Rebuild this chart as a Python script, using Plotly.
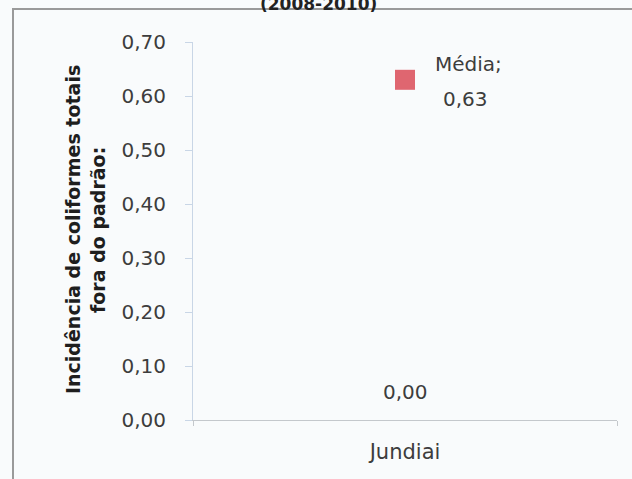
import plotly.graph_objects as go

# Data
categories = ["Jundiai"]
media_values = [0.63]
baseline_values = [0.00]
y_ticks = [0.0, 0.1, 0.2, 0.3, 0.4, 0.5, 0.6, 0.7]
y_title_lines = ["Incidência de coliformes totais", "fora do padrão:"]
chart_title = "(2008-2010)"

W, H = 632, 479
L, R, T, B = 193, 15, 42, 59
pw, ph = W - L - R, H - T - B


def px_x(p):
    return (p - L) / pw


def px_y(p):
    return (H - B - p) / ph


def fmt(v):
    return f"{v:.2f}".replace(".", ",")


FONT = "'DejaVu Sans', sans-serif"
TXT = "#3d3d3d"

fig = go.Figure()

fig.add_trace(go.Scatter(
    x=categories, y=media_values, mode="markers", name="Média",
    marker=dict(symbol="square", size=20, color="#df6670",
                line=dict(width=0)),
    cliponaxis=False, showlegend=False,
))
fig.add_trace(go.Scatter(
    x=categories, y=baseline_values, mode="markers", name="Base",
    marker=dict(size=1, color="rgba(0,0,0,0)"),
    cliponaxis=False, showlegend=False,
))

annotations = []
for c, v in zip(categories, media_values):
    annotations.append(dict(x=c, y=v, text="Média;", showarrow=False,
                            xshift=63, yshift=16,
                            font=dict(family=FONT, size=20, color=TXT)))
    annotations.append(dict(x=c, y=v, text=fmt(v), showarrow=False,
                            xshift=60, yshift=-19,
                            font=dict(family=FONT, size=20, color=TXT)))
for c, v in zip(categories, baseline_values):
    annotations.append(dict(x=c, y=v, text=fmt(v), showarrow=False,
                            yshift=28,
                            font=dict(family=FONT, size=20, color=TXT)))

# y-axis title, two bold rotated lines
for i, line in enumerate(y_title_lines):
    annotations.append(dict(
        xref="paper", yref="paper", x=px_x(60 + 25 * i), y=px_y(230),
        text=f"<b>{line}</b>", textangle=-90, showarrow=False,
        font=dict(family=FONT, size=19, color="#1e1e1e"),
    ))

# title (upper part above the frame)
annotations.append(dict(
    xref="paper", yref="paper", x=px_x(258), y=px_y(-8),
    text=f"<b>{chart_title}</b>", showarrow=False,
    font=dict(family=FONT, size=17, color="#222222"),
))

fig.update_layout(
    width=W, height=H,
    margin=dict(l=L, r=R, t=T, b=B),
    paper_bgcolor="#f9fbfc",
    plot_bgcolor="rgba(0,0,0,0)",
    separators=",.",
    annotations=annotations,
    shapes=[dict(
        type="rect", xref="paper", yref="paper",
        x0=px_x(13), x1=px_x(W + 10), y0=px_y(H + 10), y1=px_y(9),
        line=dict(color="#9a9a9a", width=2), fillcolor="rgba(0,0,0,0)",
        layer="below",
    )],
    xaxis=dict(
        type="category", range=[-0.5, len(categories) - 0.5],
        showgrid=False, zeroline=False,
        showline=True, linecolor="#c4c8cc", linewidth=1,
        ticks="outside", tickson="boundaries", ticklen=5,
        tickcolor="#c4c8cc",
        tickfont=dict(family=FONT, size=21, color=TXT),
        ticklabelstandoff=13,
    ),
    yaxis=dict(
        range=[0, 0.7], tickvals=y_ticks,
        ticktext=[fmt(v) for v in y_ticks],
        showgrid=False, zeroline=False,
        showline=True, linecolor="#c9d6e6", linewidth=1,
        ticks="outside", ticklen=7, tickcolor="#c9d6e6",
        tickfont=dict(family=FONT, size=20, color=TXT),
        ticklabelstandoff=15,
    ),
)

fig.write_html("out.html")
